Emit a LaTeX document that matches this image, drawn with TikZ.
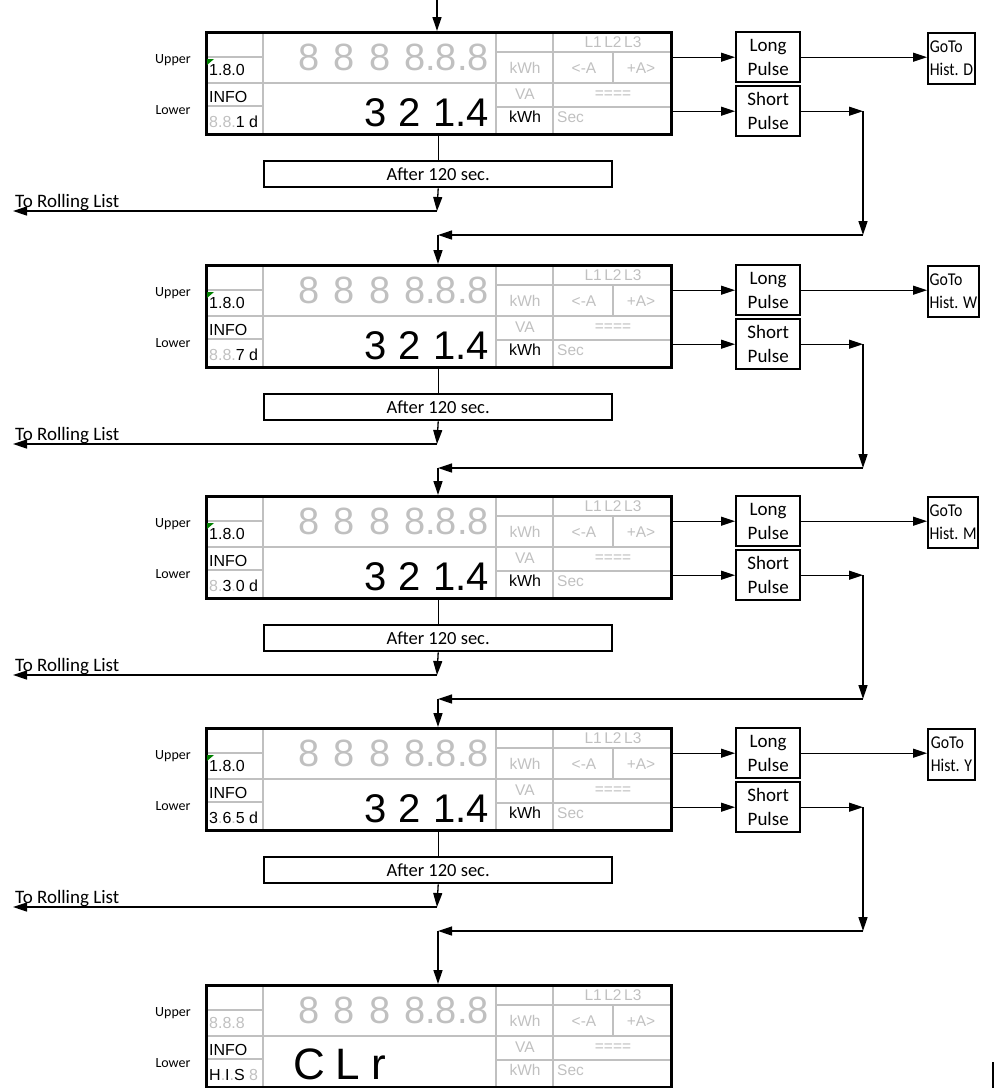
\documentclass[tikz,border=0pt]{standalone}
\usepackage{fontspec}
\setmainfont{Carlito}
\newfontfamily\arialf{Liberation Sans}
\newfontfamily\narrowf[FakeStretch=0.88]{Carlito}
\usetikzlibrary{arrows.meta}
\definecolor{lcdgrey}{RGB}{192,192,192}
\definecolor{markgreen}{RGB}{0,128,0}
\newcommand{\dgap}{\hspace{0.37em}}
\newcommand{\lgap}{\hspace{0.3em}}
\newcommand{\gr}[1]{\textcolor{lcdgrey}{#1}}
\tikzset{
 conn/.style={line width=1.3pt, -{Triangle[length=14pt,width=9pt]}},
 plainconn/.style={line width=1.3pt},
 gridl/.style={draw=lcdgrey, line width=2pt},
 dframe/.style={draw, line width=3.2pt, minimum width=465pt, minimum height=102pt, inner sep=0pt, anchor=north west},
 pulsebox/.style={draw, line width=2.4pt, minimum width=64pt, minimum height=50pt, inner sep=0pt, anchor=north west, align=center, font=\fontsize{19}{24}\selectfont},
 gotobox/.style={draw, line width=2pt, minimum width=47pt, minimum height=51pt, inner xsep=1.5pt, inner ysep=2pt, anchor=north west, align=left, font=\narrowf\fontsize{18}{23}\selectfont},
 afterbox/.style={draw, line width=2.4pt, minimum width=348pt, minimum height=26pt, inner sep=0pt, anchor=north west, font=\fontsize{18.5}{20}\selectfont},
 lbl/.style={inner sep=0pt, font=\fontsize{14}{16}\selectfont},
 rolltxt/.style={inner sep=0pt, anchor=base west, font=\fontsize{19}{22}\selectfont},
 lcd/.style={inner sep=0pt, font=\arialf\fontsize{16}{18}\selectfont},
 lcdsm/.style={inner sep=0pt, text=lcdgrey, font=\arialf\fontsize{15.5}{17}\selectfont},
 bigup/.style={inner sep=0pt, text=lcdgrey, font=\arialf\fontsize{38}{42}\selectfont},
 biglo/.style={inner sep=0pt, font=\arialf\fontsize{40}{44}\selectfont},
}
% common parts of one meter display: id, top y
\newcommand{\meterframe}[2]{%
 \begin{scope}[shift={(0,#2)}]
  \draw[gridl] (263,0) -- (263,102);
  \draw[gridl] (496,0) -- (496,102);
  \draw[gridl] (553,0) -- (553,102);
  \draw[gridl] (205,26) -- (263,26);
  \draw[gridl] (205,52) -- (496,52);
  \draw[gridl] (205,75) -- (263,75);
  \draw[gridl] (496,21) -- (670,21);
  \draw[gridl] (496,52) -- (670,52);
  \draw[gridl] (496,76) -- (670,76);
  \draw[gridl] (613,21) -- (613,52);
  \node[dframe] (disp#1) at (205,0) {};
  \node[lbl] (up#1) at (173,29) {Upper};
  \node[lbl] (lo#1) at (173,79) {Lower};
  \node[lcd, anchor=base west] (info#1) at (209,71) {INFO};
  \node[bigup, anchor=base east] (big#1) at (489,39) {8\dgap8\dgap8\dgap8.8.8};
  \node[lcdsm, anchor=base] (kwa#1) at (525,42) {kWh};
  \node[lcdsm, anchor=base] (va#1) at (525,68) {VA};
  \node[lcdsm, anchor=base] (ll#1) at (613,16) {L1\,L2\,L3};
  \node[lcdsm, anchor=base] (am#1) at (584,42) {<-A};
  \node[lcdsm, anchor=base] (ap#1) at (641,42) {+A>};
  \node[lcdsm, anchor=base] (eq#1) at (613,67) {====};
  \node[lcdsm, anchor=base west] (sec#1) at (557,91) {Sec};
 \end{scope}}
% a meter showing a history value: id, top y, row-4 text
\newcommand{\histmeter}[3]{%
 \meterframe{#1}{#2}
 \begin{scope}[shift={(0,#2)}]
  \fill[markgreen] (207,28) -- (214,28) -- (207,34) -- cycle;
  \node[lcd, anchor=base west] (code#1) at (209,44) {1.8.0};
  \node[lcd, anchor=base west] (per#1) at (209,96) {#3};
  \node[biglo, anchor=base east] (val#1) at (489,95) {3\lgap2\lgap1.4};
  \node[lcd, anchor=base] (kwb#1) at (525,91) {kWh};
 \end{scope}}
% flow around one meter: id, top y, return y, next id, history letter
\newcommand{\flowcycle}[5]{%
 \begin{scope}[shift={(0,#2)}]
  \node[afterbox] (after#1) at (263,129) {After 120 sec.};
  \coordinate (roll#1) at (437,180);
  \coordinate (rollend#1) at (13,180);
  \node[rolltxt] (rolltxt#1) at (15,176) {To Rolling List};
  \node[pulsebox] (long#1) at (735,0) {Long\\Pulse};
  \node[pulsebox] (short#1) at (735,54) {Short\\Pulse};
  \node[gotobox] (goto#1) at (927,1) {GoTo\\Hist. #5};
 \end{scope}
 \coordinate (ret#1) at (863,#3);
 \coordinate (retl#1) at (438,#3);
 \coordinate (sr#1) at (short#1.east -| ret#1);
 \draw[plainconn] (after#1.north |- disp#1.south) -- (after#1.north);
 \draw[conn] (after#1.south) -- (roll#1);
 \draw[conn] (roll#1) -- (rollend#1);
 \draw[conn] (long#1.west -| disp#1.east) -- (long#1.west);
 \draw[conn] (short#1.west -| disp#1.east) -- (short#1.west);
 \draw[conn] (long#1.east) -- (long#1.east -| goto#1.west);
 \draw[conn] (short#1.east) -- (sr#1);
 \draw[conn] (sr#1) -- (ret#1);
 \draw[conn] (ret#1) -- (retl#1);
 \draw[conn] (retl#1) -- (retl#1 |- disp#4.north);
}
\begin{document}
\begin{tikzpicture}[x=1pt,y=-1pt]
\useasboundingbox (0,0) rectangle (1003,1088);
\histmeter{1}{31}{\gr{8.8.}1 d}
\histmeter{2}{264}{\gr{8.8.}7 d}
\histmeter{3}{495}{\gr{8.}3\gr{.}0 d}
\histmeter{4}{727}{3\gr{.}6\gr{.}5 d}
\meterframe{5}{984}
\begin{scope}[shift={(0,984)}]
 \node[lcd, anchor=base west, text=lcdgrey] (code5) at (209,44) {8.8.8};
 \node[lcd, anchor=base west] (per5) at (209,96) {H\gr{.}I\gr{.}S \gr{8}};
 \node[biglo, anchor=base west, font=\arialf\fontsize{44}{48}\selectfont] (val5) at (293,95) {C\hspace{0.25em}L\hspace{0.25em}r};
 \node[lcdsm, anchor=base] (kwb5) at (525,91) {kWh};
\end{scope}
\coordinate (start) at (437,0);
\draw[conn] (start) -- (start |- disp1.north);
\flowcycle{1}{31}{235}{2}{D}
\flowcycle{2}{264}{468}{3}{W}
\flowcycle{3}{495}{699}{4}{M}
\flowcycle{4}{727}{931}{5}{Y}
\draw[line width=1.3pt] (993,1062) -- (993,1088);
\end{tikzpicture}
\end{document}
